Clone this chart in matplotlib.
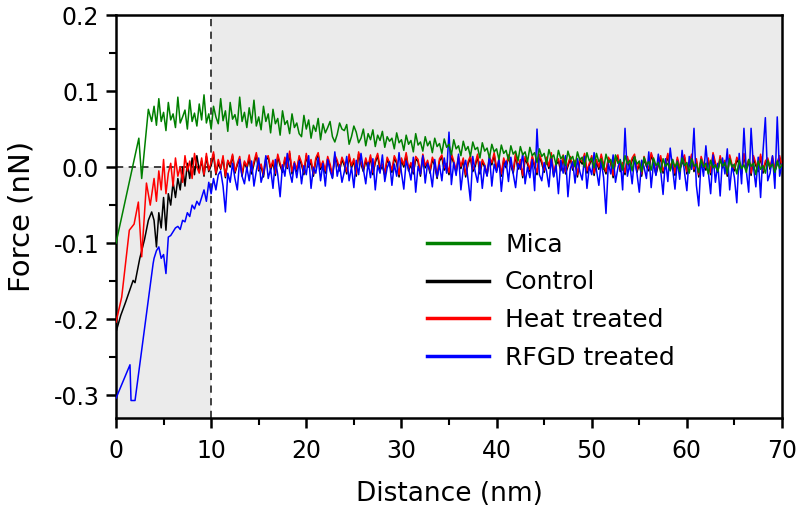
import numpy as np
from matplotlib import pyplot as plt

plt.rcParams['axes.unicode_minus'] = False
plt.rcParams['font.family'] = 'DejaVu Sans'

# start of each curve (nm, nN), read point by point
mica_x0 = [0.0, 2.4, 2.7, 3.4, 3.75]
mica_y0 = [-0.100, 0.038, -0.015, 0.076, 0.060]
control_x0 = [0.0, 0.5, 1.0, 1.5, 1.8, 2.0, 2.5, 3.0, 3.4, 3.75]
control_y0 = [-0.217, -0.195, -0.178, -0.160, -0.149, -0.152, -0.120, -0.095, -0.070, -0.059]
heat_x0 = [0.0, 0.6, 1.4, 1.9, 2.35, 2.7, 3.2, 3.6]
heat_y0 = [-0.204, -0.171, -0.083, -0.075, -0.046, -0.118, -0.021, -0.050]
rfgd_x0 = [0.0, 1.47, 1.58, 2.0, 3.9]
rfgd_y0 = [-0.304, -0.260, -0.307, -0.307, -0.127]

# rest of each curve, sampled every 0.25 nm from 4 to 70 nm, in units of 1e-3 nN
x_tail = np.arange(4.0, 70.01, 0.25)

mica_tail = [
    80, 55, 90, 60, 72, 48, 85, 62, 70, 52, 92, 58, 66, 75, 50, 88, 60, 71, 54, 83,
    62, 95, 58, 70, 50, 80, 66, 57, 90, 61, 74, 47, 85, 63, 69, 55, 92, 60, 72, 52,
    78, 58, 88, 54, 66, 49, 80, 60, 70, 45, 76, 57, 64, 42, 74, 56, 61, 44, 70, 52,
    58, 44, 40, 68, 50, 62, 38, 55, 47, 64, 36, 57, 45, 52, 60, 40, 33, 43, 58, 50,
    48, 56, 30, 40, 54, 46, 32, 38, 50, 28, 44, 36, 49, 27, 42, 35, 47, 26, 40, 34,
    38, 24, 45, 32, 36, 22, 42, 30, 35, 20, 44, 29, 33, 21, 40, 28, 34, 19, 38, 27,
    31, 18, 37, 26, 30, 16, 36, 24, 28, 15, 34, 22, 27, 14, 33, 23, 26, 12, 32, 21,
    25, 12, 30, 20, 24, 10, 29, 18, 22, 9, 28, 17, 21, 8, 27, 16, 20, 7, 26, 15,
    19, 6, 24, 14, 18, 4, 23, 12, 16, 3, 22, 11, 15, 2, 21, 10, 14, 1, 20, 9,
    13, 0, 19, 8, 12, -1, 18, 7, 11, -3, 17, 6, 10, -2, 16, 5, 9, -4, 15, 4,
    9, -5, 14, 4, 8, -6, 13, 3, 7, -4, 12, 2, 6, -7, 11, 1, 5, -5, 10, 0,
    7, -6, 12, 2, 6, -8, 11, 1, 4, -7, 10, 0, 5, -9, 9, -1, 3, -6, 10, 1,
    6, -8, 11, 0, 4, -9, 9, -2, 3, -7, 10, 1, 5, -10, 8, -3, 2, -8, 9, 0,
    4, -7, 8, -2, 3]

control_tail = [
    -70, -105, -60, -80, -40, -83, -35, -50, -20, -40, -15, -30, 0, -25, 5, -15, 12, -10, 15, -5,
    8, -12, 14, -6, 2, 17, -10, 5, -3, 12, -14, 8, 0, 15, -8, 3, 10, -12, 6, -2,
    11, -9, 4, 16, -5, 1, -13, 9, 13, -4, 6, -11, 14, 2, -7, 10, -2, 18, -9, 4,
    -6, 12, 3, -10, 15, 0, 7, -12, 9, 16, -3, 5, -8, 11, 1, -14, 13, 6, -5, 10,
    2, -9, 14, -1, 8, -12, 17, 4, -6, 9, -2, 13, -10, 6, 15, -4, 1, -11, 10, 3,
    -7, 12, 5, -13, 9, 0, 16, -5, 3, -9, 11, 7, -12, 14, -1, 6, -8, 10, 2, -15,
    8, 13, -4, 2, -10, 15, 5, -7, 11, -2, 9, -13, 4, 12, -6, 1, 14, -9, 7, 0,
    -11, 10, 3, 16, -5, 6, -12, 9, -1, 13, 2, -8, 15, -3, 7, -14, 11, 4, -6, 12,
    0, -10, 14, 5, -7, 10, -2, 16, -12, 3, 8, -5, 13, -9, 1, 11, -4, 6, -13, 9,
    4, 15, -8, 2, 12, -11, 7, -3, 14, 0, -9, 10, 5, -14, 8, 13, -6, 3, -10, 11,
    -2, 9, 14, -7, 4, -12, 11, 1, -5, 16, 6, -10, 3, 12, -8, 0, 15, -4, 7, -11,
    10, -3, 5, 13, -9, 2, 14, -6, 8, -13, 11, 1, -4, 9, -10, 16, 3, -7, 12, -1,
    6, -12, 13, 0, -5, 10, 4, -9, 15, -2, 7, -11, 12, 2, -6, 14, -8, 5, 9, -3,
    11, -6, 4, 12, -2]

heat_tail = [
    -15, -45, -5, -30, 10, -35, -8, 5, -25, 12, -12, 0, -20, 15, -5, 8, -15, 18, 0, -8,
    12, -10, 18, -4, 6, 20, -8, 10, -2, 15, -12, 9, 3, 17, -6, 5, 14, -9, 8, 1,
    16, -5, 7, 19, -3, 4, -10, 12, 15, -1, 9, -8, 17, 5, -4, 13, 0, 21, -6, 7,
    -3, 15, 6, -7, 18, 2, 10, -9, 12, 19, 0, 8, -5, 14, 4, -11, 16, 9, -2, 13,
    5, -6, 17, 2, 11, -9, 20, 7, -3, 12, 1, 16, -7, 9, 18, 0, 4, -8, 13, 6,
    -4, 15, 8, -10, 12, 3, 19, -2, 6, -6, 14, 10, -9, 17, 2, 9, -5, 13, 5, -12,
    11, 16, -1, 5, -7, 18, 8, -4, 14, 1, 12, -10, 7, 15, -3, 4, 17, -6, 10, 3,
    -8, 13, 6, 19, -2, 9, -9, 12, 2, 16, 5, -5, 18, 0, 10, -11, 14, 7, -3, 15,
    3, -7, 17, 8, -4, 13, 1, 19, -9, 6, 11, -2, 16, -6, 4, 14, -1, 9, -10, 12,
    7, 18, -5, 5, 15, -8, 10, 0, 17, 3, -6, 13, 8, -11, 11, 16, -3, 6, -7, 14,
    1, 12, 17, -4, 7, -9, 14, 4, -2, 19, 9, -7, 6, 15, -5, 3, 18, -1, 10, -8,
    13, 0, 8, 16, -6, 5, 17, -3, 11, -10, 14, 4, -1, 12, -7, 19, 6, -4, 15, 2,
    9, -9, 16, 3, -2, 13, 7, -6, 18, 1, 10, -8, 15, 5, -3, 17, -5, 8, 12, 0,
    14, -3, 7, 15, 1]

rfgd_tail = [
    -120, -110, -105, -120, -115, -140, -92, -90, -85, -80, -78, -82, -70, -72, -60, -65, -50, -55, -45, -50,
    -40, -30, -45, -20, -35, -15, -30, -10, -5, -25, -59, -8, -20, 5, -15, -30, 10, -12, -22, 0,
    -18, 8, -25, -5, 12, -20, -8, 15, -15, -2, -28, 10, -10, -39, 3, -12, 18, -6, -20, 5,
    -14, 8, -22, 2, -10, 15, -28, 0, -8, 12, -18, 5, -25, 10, -5, -15, 20, -12, 3, -20,
    -6, 14, -18, 0, -27, 9, -10, 18, -3, -22, 6, -14, 11, -30, 2, -8, 16, -19, -1, 7,
    -24, 4, -12, 19, -7, -29, 8, -2, -17, 13, -33, 1, -9, 15, -21, 5, -4, -26, 10, -13,
    3, -18, 12, -8, 46, -23, 6, -11, 17, -30, -2, 9, -16, -44, 14, -6, -20, 7, -28, 2,
    -12, 16, -25, 4, -7, 11, -32, -1, 8, -19, 13, -9, -27, 5, -3, 18, -22, 0, -14, 10,
    -31, 50, -10, -18, 6, -5, -26, 12, -13, 3, -35, 9, -8, 15, -39, -2, 7, -21, 11, -6,
    -17, 14, -28, 1, -10, 19, -4, -24, 8, -14, -61, 5, -9, 16, -20, -1, 10, -30, 51, -12,
    4, -22, 13, -8, -33, 9, 0, -15, 20, -27, 6, -11, 17, -5, -36, 11, -19, 25, -2, -29,
    8, -16, 22, -7, -31, 14, -3, 51, -24, -51, 10, -12, 28, -6, -35, 16, -20, 5, -38, 12,
    -9, 24, -30, 3, -14, -47, 18, -22, 51, -5, -33, 51, 0, -26, 13, -40, 20, 65, -18, -8,
    15, -28, 66, -12, 4]

labels = ['Mica', 'Control', 'Heat treated', 'RFGD treated']
colors = ['#008000', 'black', '#ff0000', '#0000ff']


def join(x0, y0, tail):
    x = np.concatenate([x0, x_tail])
    y = np.concatenate([y0, np.array(tail) / 1000.0])
    return x, y


mica_x, mica_y = join(mica_x0, mica_y0, mica_tail)
control_x, control_y = join(control_x0, control_y0, control_tail)
heat_x, heat_y = join(heat_x0, heat_y0, heat_tail)
rfgd_x, rfgd_y = join(rfgd_x0, rfgd_y0, rfgd_tail)

fig = plt.figure(figsize=(8, 5.11), dpi=100)
ax = fig.add_axes([0.145, 0.182, 0.8325, 0.7886])

# shaded quadrants and dashed guides
ax.fill_between([0, 10], -0.33, 0, color='#ebebeb', lw=0, zorder=0)
ax.fill_between([10, 70], 0, 0.2, color='#ebebeb', lw=0, zorder=0)
ax.plot([10, 10], [-0.33, 0.2], color='#333333', lw=1.3, ls=(0, (4, 3)), zorder=1)
ax.plot([0, 10], [0, 0], color='#333333', lw=1.3, ls=(0, (4, 3)), zorder=1)

l_ctrl, = ax.plot(control_x, control_y, color=colors[1], lw=1.1, zorder=2)
l_heat, = ax.plot(heat_x, heat_y, color=colors[2], lw=1.1, zorder=3)
l_rfgd, = ax.plot(rfgd_x, rfgd_y, color=colors[3], lw=1.1, zorder=4)
l_mica, = ax.plot(mica_x, mica_y, color=colors[0], lw=1.1, zorder=5)

ax.set_xlim(0, 70)
ax.set_ylim(-0.33, 0.2)
ax.set_xticks(np.arange(0, 71, 10))
ax.set_xticks(np.arange(0, 71, 5), minor=True)
ax.set_yticks([-0.3, -0.2, -0.1, 0.0, 0.1, 0.2])
ax.set_yticks(np.arange(-0.3, 0.21, 0.05), minor=True)
ax.set_yticklabels(['-0.3', '-0.2', '-0.1', '0.0', '0.1', '0.2'])

for s in ax.spines.values():
    s.set_linewidth(1.8)
ax.tick_params(which='major', direction='out', length=7, width=1.8, labelsize=17)
ax.tick_params(axis='x', which='major', pad=8)
ax.tick_params(axis='y', which='major', pad=5)
ax.tick_params(which='minor', direction='out', length=5, width=1.5)

ax.set_xlabel('Distance (nm)', fontsize=19, labelpad=13)
ax.set_ylabel('Force (nN)', fontsize=21, labelpad=13)

leg = ax.legend([l_mica, l_ctrl, l_heat, l_rfgd], labels, loc='upper left',
                bbox_to_anchor=(0.467, 0.46), frameon=False,
                borderpad=0, borderaxespad=0, handlelength=2.48, handletextpad=0.64,
                labelspacing=0.55, prop={'size': 18})
for line in leg.get_lines():
    line.set_linewidth(2.5)

plt.savefig('out.png', dpi=100)
